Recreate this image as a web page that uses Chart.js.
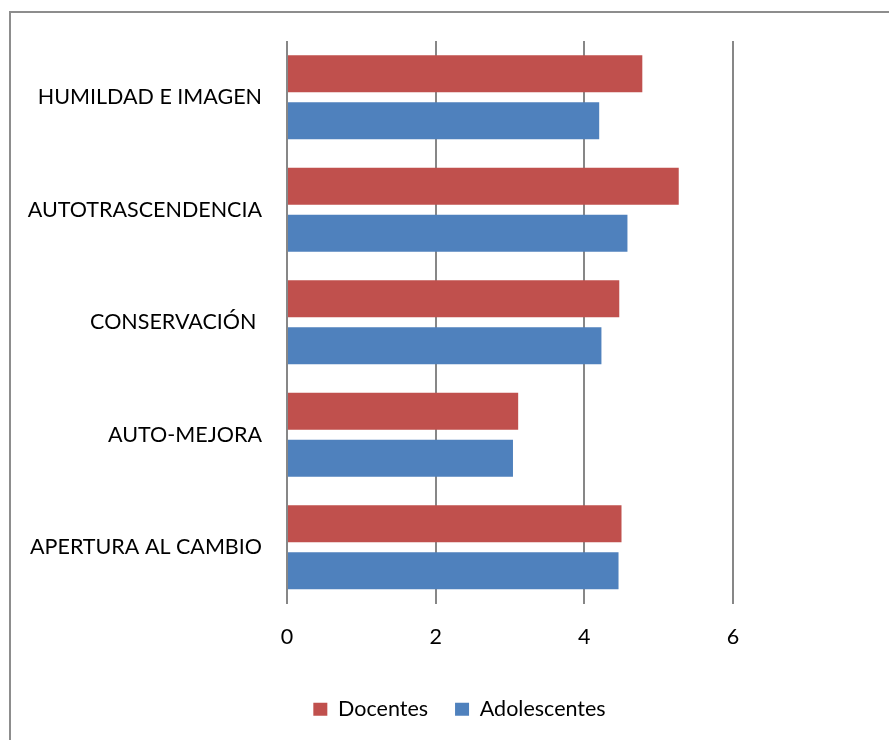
<!DOCTYPE html>
<html>
<head>
<meta charset="utf-8">
<script src="https://cdn.jsdelivr.net/npm/chart.js@4"></script>
<style>
  html, body { margin: 0; padding: 0; background: #fff; overflow: hidden; }
  #frame {
    position: absolute; left: 9px; top: 11px;
    width: 1000px; height: 1000px;
    border-left: 2px solid #8d8d8d; border-top: 2px solid #8d8d8d;
  }
  #wrap { position: absolute; left: 0; top: 0; width: 889px; height: 740px; }
</style>
</head>
<body>
<div id="frame"></div>
<div id="wrap"><canvas id="myChart"></canvas></div>
<script>
const categories = [
    'HUMILDAD E IMAGEN',
    'AUTOTRASCENDENCIA',
    'CONSERVACIÓN ',
    'AUTO-MEJORA',
    'APERTURA AL CAMBIO'
];
const docentes = [4.78, 5.27, 4.47, 3.11, 4.50];
const adolescentes = [4.20, 4.58, 4.23, 3.04, 4.46];
const xTicks = [0, 2, 4, 6];

const font = { family: 'Lato, "Open Sans", sans-serif', size: 21.5 };
const ctx = document.getElementById('myChart').getContext('2d');

// the original legend is centred on the page, not under the plot box
const shiftLegend = {
    id: 'shiftLegend',
    afterLayout(chart) {
        chart.legend.left += 93;
        chart.legend.right += 93;
    }
};

new Chart(ctx, {
    type: 'bar',
    data: {
        labels: categories,
        datasets: [{
            label: 'Docentes',
            data: docentes,
            backgroundColor: '#C0504D',
            borderWidth: 0
        }, {
            label: 'Adolescentes',
            data: adolescentes,
            backgroundColor: '#4F81BD',
            borderWidth: 0
        }]
    },
    options: {
        indexAxis: 'y',
        responsive: true,
        maintainAspectRatio: false,
        animation: false,
        categoryPercentage: 0.832,
        barPercentage: 0.79,
        layout: {
            padding: { left: 0, right: 156, top: 41, bottom: 10 }
        },
        scales: {
            x: {
                min: 0,
                max: 6,
                afterBuildTicks: (scale) => {
                    scale.ticks = xTicks.map(v => ({ value: v }));
                },
                afterFit: (scale) => { scale.height = 68; },
                grid: {
                    color: '#878787',
                    lineWidth: 2,
                    drawTicks: false
                },
                border: { display: false },
                ticks: {
                    color: '#000',
                    font: font,
                    padding: 21
                }
            },
            y: {
                afterFit: (scale) => { scale.width = 287; },
                grid: { display: false, drawTicks: false },
                border: { display: false },
                ticks: {
                    color: '#000',
                    font: font,
                    padding: 25
                }
            }
        },
        plugins: {
            legend: {
                position: 'bottom',
                onClick: null,
                labels: {
                    color: '#000',
                    font: font,
                    boxWidth: 14,
                    boxHeight: 13,
                    padding: 27
                }
            },
            tooltip: { enabled: false }
        }
    },
    plugins: [shiftLegend]
});
</script>
</body>
</html>
